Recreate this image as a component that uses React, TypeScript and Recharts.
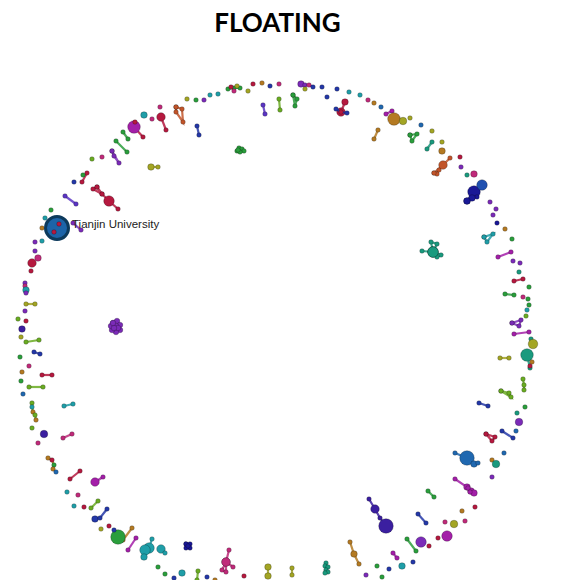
import { Scatter, ScatterChart, XAxis, YAxis } from 'recharts';

// node = [x, y, radius, colour override]
type Pt = [number, number, number, string?];

const C = {
  red: '#b5193f',
  pink: '#c02a7a',
  magenta: '#a31fa8',
  purple: '#7b2bb8',
  violet: '#5b35c4',
  indigo: '#3b1fa0',
  blue: '#2438a8',
  navy: '#1a1896',
  steel: '#2068b0',
  teal: '#1f9ea8',
  sea: '#1a9a7e',
  green: '#2a9e3c',
  lime: '#6aac22',
  olive: '#a3a524',
  brown: '#b47a22',
  orange: '#c2552a',
};

const title = 'FLOATING';

const hub: Pt[] = [[57, 228, 11.5, '#1d64a8']];
const hubName = 'Tianjin University';
const hubInner: Pt[] = [
  [59, 224, 2, C.red],
  [54, 232, 2, C.red],
];

// connected components, drawn as polylines through their nodes
const links: { color: string; pts: Pt[] }[] = [
  { color: C.green, pts: [[228, 89, 2], [234, 88, 2], [240, 88, 2]] },
  { color: C.purple, pts: [[301, 84, 3], [305, 85, 2], [309, 85, 2, C.pink], [313, 87, 2, C.blue]] },
  { color: C.orange, pts: [[176, 107, 2], [182, 109, 2], [183, 122, 2], [176, 112, 2], [176, 107, 2]] },
  { color: C.red, pts: [[161, 117, 4], [166, 130, 2]] },
  { color: C.red, pts: [[134, 127, 6, C.magenta], [143, 137, 2]] },
  { color: C.green, pts: [[123, 132, 2], [128, 139, 2]] },
  { color: C.green, pts: [[116, 141, 2], [127, 152, 2]] },
  { color: C.purple, pts: [[112, 151, 2], [114, 156, 2], [119, 163, 2], [112, 151, 2]] },
  { color: C.olive, pts: [[151, 167, 3], [158, 167, 2]] },
  { color: C.blue, pts: [[197, 126, 2], [199, 135, 2]] },
  { color: C.violet, pts: [[263, 105, 2], [265, 114, 2]] },
  { color: C.lime, pts: [[279, 99, 2], [280, 110, 2]] },
  { color: C.green, pts: [[293, 95, 2], [297, 99, 2], [295, 106, 2], [293, 95, 2]] },
  { color: C.red, pts: [[345, 102, 3], [341, 112, 4]] },
  { color: C.blue, pts: [[336, 109, 2], [341, 112, 2, C.red], [347, 113, 2]] },
  { color: C.brown, pts: [[374, 139, 2], [378, 130, 2]] },
  { color: C.green, pts: [[410, 135, 2], [417, 134, 2], [412, 141, 2], [410, 135, 2]] },
  { color: C.green, pts: [[237, 151, 2], [239, 148, 2], [242, 149, 2], [244, 151, 2], [240, 152, 2], [238, 150, 2]] },
  { color: C.magenta, pts: [[386, 114, 2], [392, 111, 2]] },
  { color: C.sea, pts: [[427, 149, 2], [432, 142, 2]] },
  { color: C.orange, pts: [[434, 173, 2], [439, 170, 2], [437, 174, 2], [434, 173, 2], [443, 165, 4], [450, 158, 2]] },
  { color: C.navy, pts: [[467, 201, 3], [474, 192, 6], [477, 197, 2], [472, 198, 3], [467, 201, 3]] },
  { color: C.teal, pts: [[484, 237, 2], [493, 234, 2], [487, 242, 2], [484, 237, 2]] },
  { color: C.magenta, pts: [[498, 257, 2], [511, 252, 2]] },
  { color: C.red, pts: [[514, 281, 2], [523, 279, 2]] },
  { color: C.green, pts: [[505, 294, 2], [514, 295, 2]] },
  { color: C.sea, pts: [[422, 251, 2], [433, 252, 5], [441, 255, 2], [437, 257, 2], [433, 252, 5], [431, 242, 2], [437, 244, 2], [433, 252, 5]] },
  { color: C.purple, pts: [[512, 323, 2], [521, 320, 2], [519, 326, 2], [512, 323, 2]] },
  { color: C.magenta, pts: [[514, 334, 2], [529, 332, 2]] },
  { color: C.olive, pts: [[500, 358, 2], [509, 358, 2]] },
  { color: C.sea, pts: [[527, 355, 6], [530, 368, 2]] },
  { color: C.lime, pts: [[523, 379, 2], [524, 385, 2], [524, 390, 2]] },
  { color: C.lime, pts: [[501, 391, 2], [509, 393, 2], [511, 397, 2], [501, 391, 2]] },
  { color: C.blue, pts: [[479, 403, 2], [488, 406, 2]] },
  { color: C.blue, pts: [[502, 431, 2], [513, 438, 2]] },
  { color: C.red, pts: [[486, 434, 2], [495, 437, 2], [492, 441, 2], [486, 434, 2]] },
  { color: C.steel, pts: [[455, 453, 2], [467, 458, 7], [474, 464, 3], [478, 463, 2]] },
  { color: C.magenta, pts: [[455, 479, 2], [467, 487, 3], [471, 491, 3], [474, 493, 3], [470, 492, 2], [468, 488, 2]] },
  { color: C.green, pts: [[428, 491, 2], [434, 497, 2]] },
  { color: C.blue, pts: [[418, 514, 2], [426, 523, 2]] },
  { color: C.indigo, pts: [[369, 499, 2], [375, 509, 4], [380, 518, 2], [386, 526, 7]] },
  { color: C.green, pts: [[407, 539, 2], [416, 551, 2]] },
  { color: C.magenta, pts: [[393, 553, 2], [397, 558, 2]] },
  { color: C.brown, pts: [[350, 542, 2], [354, 554, 3], [359, 564, 2]] },
  { color: C.sea, pts: [[326, 563, 2], [325, 566, 2], [328, 567, 2], [326, 570, 2], [328, 572, 2], [325, 573, 2]] },
  { color: C.olive, pts: [[292, 568, 2], [292, 575, 2]] },
  { color: C.olive, pts: [[268, 567, 3], [268, 576, 3]] },
  { color: C.pink, pts: [[229, 550, 2], [226, 562, 4], [222, 570, 2], [226, 572, 2], [226, 562, 4], [233, 567, 2]] },
  { color: C.navy, pts: [[186, 544, 2], [190, 544, 2], [190, 548, 2], [186, 548, 2], [186, 544, 2], [188, 546, 2]] },
  { color: C.teal, pts: [[152, 539, 2], [149, 548, 5], [145, 550, 5], [144, 557, 3]] },
  { color: C.teal, pts: [[161, 549, 4], [165, 553, 2]] },
  { color: C.lime, pts: [[198, 571, 2], [197, 580, 2]] },
  { color: C.magenta, pts: [[128, 550, 2], [136, 538, 2]] },
  { color: C.brown, pts: [[123, 540, 2], [132, 528, 2]] },
  { color: C.blue, pts: [[95, 519, 3], [100, 518, 2], [107, 509, 2]] },
  { color: C.lime, pts: [[91, 508, 2], [98, 501, 2]] },
  { color: C.magenta, pts: [[95, 482, 4], [103, 477, 2]] },
  { color: C.red, pts: [[70, 479, 2], [80, 471, 2]] },
  { color: C.brown, pts: [[48, 458, 2], [52, 460, 2, C.red], [54, 465, 2, C.green], [53, 469, 2], [56, 472, 2, C.steel]] },
  { color: C.pink, pts: [[63, 438, 2], [72, 434, 2]] },
  { color: C.teal, pts: [[64, 406, 2], [73, 404, 2]] },
  { color: C.lime, pts: [[32, 403, 2], [32, 407, 2, C.teal], [33, 412, 2, C.brown], [35, 415, 2], [36, 420, 2, C.brown]] },
  { color: C.lime, pts: [[29, 387, 2], [43, 387, 2]] },
  { color: C.red, pts: [[42, 375, 2], [52, 375, 2]] },
  { color: C.blue, pts: [[34, 352, 2], [40, 354, 2]] },
  { color: C.lime, pts: [[26, 342, 2], [39, 340, 2]] },
  { color: C.olive, pts: [[26, 304, 2], [35, 304, 2]] },
  { color: C.pink, pts: [[25, 283, 2, C.purple], [25, 286, 2], [26, 290, 3, C.teal], [26, 293, 2, C.purple]] },
  { color: C.purple, pts: [[113, 323, 2.5], [117, 321, 2.5], [120, 325, 2.5], [120, 330, 2.5], [116, 332, 2.5], [112, 330, 2.5], [111, 326, 2.5], [116, 326, 2.5], [118, 328, 2.5], [114, 328, 2.5], [113, 323, 2.5]] },
  { color: C.violet, pts: [[65, 196, 2], [76, 204, 2]] },
  { color: C.red, pts: [[97, 187, 2], [93, 189, 2], [102, 194, 2], [97, 187, 2]] },
  { color: C.red, pts: [[102, 194, 2], [109, 201, 5], [118, 209, 2]] },
  { color: C.red, pts: [[87, 173, 2], [82, 182, 2]] },
  { color: C.purple, pts: [[73, 223, 2], [81, 230, 2]] },
];

// isolated nodes
const dots: Pt[] = [
  [187, 99, 2, C.olive], [196, 100, 2, C.green], [204, 100, 2, C.purple], [210, 95, 2, C.teal],
  [218, 94, 2, C.teal], [231, 87, 2, C.red], [234, 91, 2, C.pink], [237, 86, 2, C.olive],
  [248, 91, 2, C.olive], [253, 84, 2, C.red], [262, 83, 2, C.brown], [270, 86, 2, C.blue],
  [279, 84, 2, C.pink], [305, 89, 2, C.olive], [322, 87, 2, C.blue], [327, 97, 2, C.blue],
  [337, 89, 2, C.blue], [349, 92, 2, C.teal], [360, 95, 2, C.teal], [368, 100, 2, C.pink],
  [374, 103, 2, C.brown], [381, 107, 2, C.steel], [394, 119, 6, C.brown], [403, 121, 3.5, C.olive],
  [410, 118, 2, C.olive], [421, 125, 2, C.steel], [432, 131, 2, C.olive], [442, 142, 2, C.olive],
  [442, 151, 3, C.brown], [460, 157, 2, C.red], [461, 167, 2, C.purple], [467, 175, 2, C.sea],
  [474, 174, 3, C.pink], [482, 185, 5, '#2050b0'], [490, 202, 2, C.purple], [496, 209, 2, C.purple],
  [493, 215, 2, C.purple], [497, 223, 2, C.navy], [505, 229, 2, C.brown], [512, 239, 2, C.green],
  [513, 261, 2, C.purple], [520, 263, 2, C.purple], [519, 272, 2, C.sea], [529, 287, 2, C.green],
  [523, 297, 2, C.pink], [528, 299, 2, C.green], [529, 305, 2, C.green], [527, 310, 2, C.teal],
  [526, 316, 2, C.lime], [531, 339, 2, C.sea], [533, 344, 4.5, C.olive], [532, 362, 2, C.brown],
  [530, 366, 2, C.red], [525, 407, 2, C.green], [517, 413, 2, C.sea], [519, 422, 3.5, C.purple],
  [516, 431, 2, C.steel], [504, 453, 2, C.steel], [492, 460, 2, C.brown], [496, 464, 3.5, C.sea],
  [492, 477, 2, C.purple], [475, 507, 2, C.red], [462, 511, 2, C.brown], [465, 521, 2, C.pink],
  [454, 524, 3.5, C.olive], [445, 522, 2, C.pink], [447, 536, 5, C.magenta], [438, 538, 2, C.red],
  [429, 546, 2, C.red], [421, 542, 5, C.purple], [413, 562, 2, C.blue], [402, 566, 3, C.teal],
  [389, 569, 2, C.blue], [377, 566, 2, C.green], [382, 577, 2, C.green], [366, 575, 2, C.purple],
  [244, 576, 2, C.red], [215, 580, 2, C.brown], [207, 577, 2, C.blue], [182, 573, 3, C.teal],
  [174, 578, 2, C.blue], [165, 574, 2, C.green], [158, 567, 2, C.green], [118, 537, 7, C.green],
  [114, 530, 2, C.blue], [109, 526, 2, C.red], [101, 529, 2, C.olive], [84, 507, 2, C.red],
  [74, 506, 2, C.teal], [78, 495, 2, C.pink], [67, 492, 2, C.teal], [38, 443, 2, C.pink],
  [44, 434, 3.5, C.indigo], [32, 428, 2, C.lime], [23, 394, 2, C.steel], [21, 381, 2, C.green],
  [22, 372, 2, C.brown], [29, 366, 2, C.pink], [20, 357, 2, C.green], [21, 337, 2, C.olive],
  [22, 329, 3, C.indigo], [26, 321, 2, C.red], [18, 319, 2, C.lime], [25, 311, 2, C.purple],
  [31, 271, 2, C.red], [32, 263, 4, C.red], [38, 258, 3, C.pink], [35, 251, 2, C.purple],
  [35, 242, 2, C.purple], [42, 241, 2, C.teal], [42, 228, 2, C.brown], [45, 218, 2, C.teal],
  [51, 210, 2, C.green], [74, 182, 2, C.blue], [83, 175, 2, C.green], [92, 159, 2, C.lime],
  [102, 157, 2, C.pink], [135, 122, 2, C.red], [144, 115, 3, C.teal], [152, 119, 2, C.pink],
  [160, 107, 2, C.pink],
];

const toRows = (pts: Pt[], color?: string) =>
  pts.map(([x, y, r, c]) => ({ x, y, r, c: c ?? color ?? '#888' }));

const NodeShape = (props: any) => {
  const { cx, cy, payload } = props;
  if (cx == null || cy == null) return null;
  return (
    <circle
      cx={cx}
      cy={cy}
      r={payload.r + 0.3}
      fill={payload.c}
      stroke="#000"
      strokeOpacity={0.3}
      strokeWidth={0.8}
    />
  );
};

const HubShape = (props: any) => {
  const { cx, cy, payload } = props;
  if (cx == null || cy == null) return null;
  return (
    <g>
      <circle cx={cx} cy={cy} r={payload.r} fill={payload.c} stroke="#0d3a5c" strokeWidth={3} />
      <text
        x={cx + 15}
        y={cy - 3}
        dominantBaseline="middle"
        fontFamily="'Liberation Sans', Arial, sans-serif"
        fontSize={11.5}
        fill="#222"
      >
        {hubName}
      </text>
    </g>
  );
};

export default function App() {
  return (
    <div style={{ position: 'absolute', left: 0, top: 0, width: 585, height: 580, background: '#fff' }}>
      <div
        style={{
          position: 'absolute',
          left: 0,
          top: 9,
          width: 555,
          textAlign: 'center',
          fontFamily: 'Lato, sans-serif',
          fontWeight: 700,
          fontSize: 26,
          lineHeight: '26px',
          color: '#000',
        }}
      >
        {title}
      </div>
      <ScatterChart width={585} height={580} margin={{ top: 0, right: 0, bottom: 0, left: 0 }}>
        <XAxis type="number" dataKey="x" domain={[0, 585]} hide allowDataOverflow />
        <YAxis type="number" dataKey="y" domain={[0, 580]} reversed hide allowDataOverflow />
        {links.map((l, i) => (
          <Scatter
            key={`l${i}`}
            data={toRows(l.pts, l.color)}
            fill={l.color}
            line={{ stroke: l.color, strokeWidth: 2.2, strokeOpacity: 0.85 }}
            shape={NodeShape}
            isAnimationActive={false}
          />
        ))}
        <Scatter data={toRows(dots)} shape={NodeShape} isAnimationActive={false} />
        <Scatter data={toRows(hub)} shape={HubShape} isAnimationActive={false} />
        <Scatter data={toRows(hubInner)} shape={NodeShape} isAnimationActive={false} />
      </ScatterChart>
    </div>
  );
}
